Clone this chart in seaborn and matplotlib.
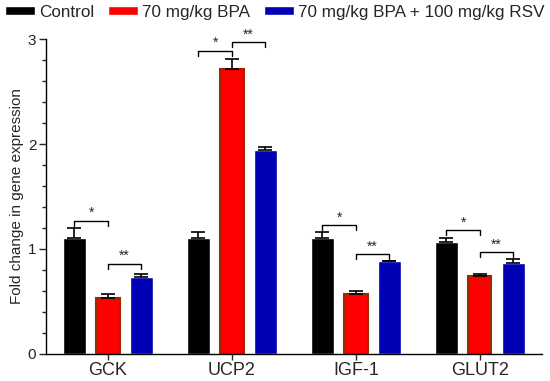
import pandas as pd
import matplotlib.pyplot as plt
import seaborn as sns

# Data
genes = ['GCK', 'UCP2', 'IGF-1', 'GLUT2']
groups = ['Control', '70 mg/kg BPA', '70 mg/kg BPA + 100 mg/kg RSV']
control = [1.10, 1.10, 1.10, 1.07]
bpa = [0.53, 2.71, 0.57, 0.74]
bpa_rsv = [0.73, 1.94, 0.885, 0.87]
control_err = [0.10, 0.06, 0.06, 0.03]
bpa_err = [0.04, 0.10, 0.03, 0.02]
bpa_rsv_err = [0.03, 0.03, 0.005, 0.03]

# significance brackets: (gene index, left group, right group, height, label)
bracket_gene = [0, 0, 1, 1, 2, 2, 3, 3]
bracket_left = [0, 1, 0, 1, 0, 1, 0, 1]
bracket_right = [1, 2, 1, 2, 1, 2, 1, 2]
bracket_y = [1.27, 0.86, 2.89, 2.97, 1.23, 0.95, 1.18, 0.97]
bracket_txt = ['*', '**', '*', '**', '*', '**', '*', '**']

palette = ['#000000', '#FF0000', '#0000B4']

df = pd.DataFrame({
    'gene': genes * 3,
    'group': [g for g in groups for _ in genes],
    'value': control + bpa + bpa_rsv,
})
errs = [control_err, bpa_err, bpa_rsv_err]

sns.set_style('ticks')
plt.rcParams['font.family'] = ['Liberation Sans', 'DejaVu Sans']

fig = plt.figure(figsize=(5.5, 3.81), dpi=100)
ax = fig.add_axes([0.0836, 0.0709, 0.9014, 0.8267])

sns.barplot(data=df, x='gene', y='value', hue='group', hue_order=groups,
            palette=palette, width=0.81, gap=0.3, saturation=1,
            errorbar=None, ax=ax, legend=True)

# bar centres per group, taken from the drawn patches
bar_conts = list(ax.containers)
centres = []
for k, cont in enumerate(bar_conts):
    xs = [p.get_x() + p.get_width() / 2 for p in cont]
    centres.append(xs)
    vals = [control, bpa, bpa_rsv][k]
    if k == 1:
        for p in cont:
            p.set_edgecolor('#9A2A00')
            p.set_linewidth(1.5)
    ax.errorbar(xs, vals, yerr=[[0] * len(vals), errs[k]], fmt='none',
                ecolor='black', elinewidth=1.2, capsize=5, capthick=1.2, zorder=3)

tick_h = 0.05
for gi, l, r, y, t in zip(bracket_gene, bracket_left, bracket_right, bracket_y, bracket_txt):
    x1 = centres[l][gi]
    x2 = centres[r][gi]
    ax.plot([x1, x1, x2, x2], [y - tick_h, y, y, y - tick_h], color='black', lw=1)
    ax.text((x1 + x2) / 2, y + 0.005, t, ha='center', va='bottom', fontsize=10)

ax.set_ylim(0, 3)
ax.set_xlim(-0.5, 3.5)
ax.set_yticks([0, 1, 2, 3])
ax.set_yticks([i / 5 for i in range(16)], minor=True)
ax.tick_params(axis='y', which='major', length=5, width=1, labelsize=11, pad=2)
ax.tick_params(axis='y', which='minor', length=3, width=1)
ax.tick_params(axis='x', length=4, width=1, labelsize=13, pad=2)
ax.set_xlabel('')
ax.set_ylabel('Fold change in gene expression', fontsize=11, labelpad=3)
sns.despine(ax=ax)
for s in ['left', 'bottom']:
    ax.spines[s].set_linewidth(1)
    ax.spines[s].set_color('black')

handles, labels = ax.get_legend_handles_labels()
ax.legend_.remove()
fig.legend(handles, labels, loc='center', bbox_to_anchor=(0.5, 0.968), ncol=3,
           frameon=False, fontsize=12.3, handlelength=1.75, handleheight=0.5,
           handletextpad=0.25, columnspacing=0.8, borderaxespad=0)

fig.savefig('out.png', dpi=100)
